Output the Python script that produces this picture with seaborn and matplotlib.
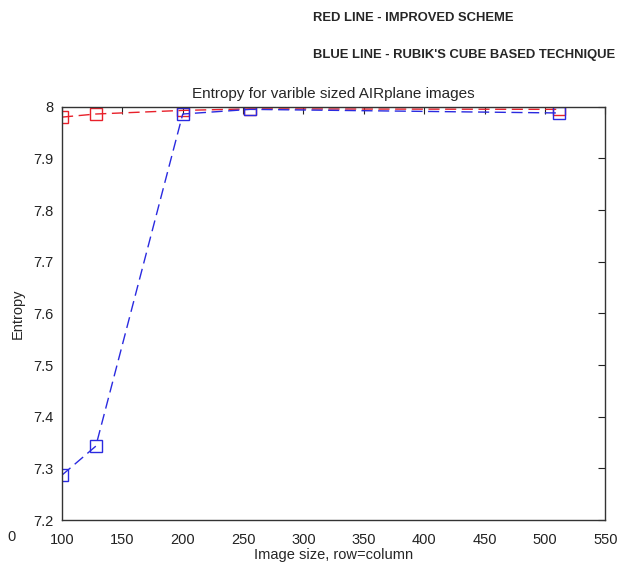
import numpy as np
import pandas as pd
import matplotlib
matplotlib.use("Agg")
import matplotlib.pyplot as plt
import seaborn as sns

# ── data ──────────────────────────────────────────────────────────────────
image_sizes = [100, 128, 200, 256, 512]
improved = [7.980, 7.986, 7.993, 7.996, 7.995]
rubik = [7.287, 7.343, 7.986, 7.995, 7.988]
x_ticks = [100, 150, 200, 250, 300, 350, 400, 450, 500, 550]
y_ticks = [7.2, 7.3, 7.4, 7.5, 7.6, 7.7, 7.8, 7.9, 8.0]

df = pd.DataFrame({
    "size": image_sizes * 2,
    "entropy": improved + rubik,
    "method": ["improved"] * len(image_sizes) + ["rubik"] * len(image_sizes),
})

sns.set_style("white")
plt.rcParams["font.family"] = ["Liberation Sans", "DejaVu Sans"]

fig = plt.figure(figsize=(6.24, 5.62), dpi=100)
ax = fig.add_axes([0.0994, 0.0747, 0.8706, 0.7353])

sns.lineplot(
    data=df, x="size", y="entropy", hue="method", style="method",
    palette={"improved": "#e8202a", "rubik": "#2a2ae0"},
    dashes={"improved": (8, 4), "rubik": (8, 4)},
    markers={"improved": "s", "rubik": "s"},
    markersize=8, markerfacecolor="none", markeredgewidth=1.0,
    linewidth=1.0, legend=False, ax=ax,
)
# keep the squares hollow, edge in the line colour
for line in ax.lines:
    line.set_markerfacecolor("none")
    line.set_markeredgecolor(line.get_color())

ax.set_xlim(100, 550)
ax.set_ylim(7.2, 8.0)
ax.set_xticks(x_ticks)
ax.set_yticks(y_ticks)
ax.set_yticklabels(["7.2", "7.3", "7.4", "7.5", "7.6", "7.7", "7.8", "7.9", "8"])
ax.tick_params(direction="in", top=True, right=True, length=5,
               labelsize=10.5, colors="#222222")
ax.tick_params(axis="x", pad=9)
ax.tick_params(axis="y", pad=6)
for s in ax.spines.values():
    s.set_color("#333333")
    s.set_linewidth(1.0)

ax.set_title("Entropy for varible sized AIRplane images", fontsize=11, pad=6)
ax.set_xlabel("Image size, row=column", fontsize=10.5, labelpad=1)
ax.set_ylabel("Entropy", fontsize=10.5, labelpad=6)

fig.text(12 / 624, 1 - 537 / 562, "0", fontsize=10.5, ha="center", va="center")
fig.text(313 / 624, 1 - 18 / 562, "RED LINE - IMPROVED SCHEME",
         fontsize=9.4, fontweight="bold", ha="left", va="center")
fig.text(313 / 624, 1 - 55 / 562, "BLUE LINE - RUBIK'S CUBE BASED TECHNIQUE",
         fontsize=9.4, fontweight="bold", ha="left", va="center")

fig.savefig("out.png", dpi=100)
